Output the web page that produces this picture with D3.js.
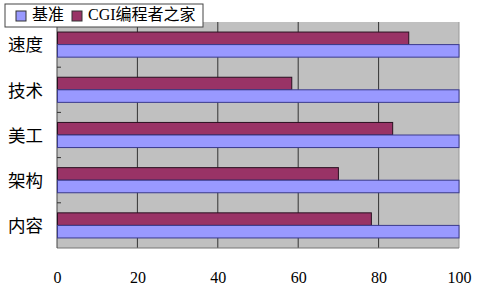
<!DOCTYPE html>
<html lang="zh">
<head>
<meta charset="UTF-8">
<title>速度 技术 美工 架构 内容</title>
<script src="https://d3js.org/d3.v7.min.js"></script>
<style>
    body { margin: 0; background: #fff; }
    svg { display: block; }
</style>
</head>
<body>
<svg id="chart" width="482" height="291"></svg>
<script>
    // data
    const categories = ["速度", "技术", "美工", "架构", "内容"];
    const seriesNames = ["CGI编程者之家", "基准"];
    const cgiValues = [87.5, 58.4, 83.5, 70, 78.2];
    const baseValues = [100, 100, 100, 100, 100];
    const xTicks = [0, 20, 40, 60, 80, 100];
    const colors = { "基准": "#9999ff", "CGI编程者之家": "#993366" };

    const svg = d3.select("#chart");
    const margin = { top: 22, left: 57, right: 23, bottom: 43 };
    const W = 482 - margin.left - margin.right;
    const H = 291 - margin.top - margin.bottom;

    const g = svg.append("g").attr("transform", `translate(${margin.left},${margin.top})`);

    const x = d3.scaleLinear().domain([0, 100]).range([0, W]);
    const y = d3.scaleBand().domain(categories).range([0, H]).padding(0);
    const inner = d3.scaleBand().domain(seriesNames).range([0, y.bandwidth()])
        .paddingInner(0).paddingOuter(0.8);

    // plot background
    g.append("rect").attr("width", W).attr("height", H).attr("fill", "#c0c0c0");

    // grid
    g.selectAll(".grid").data(xTicks.slice(1, -1)).join("line")
        .attr("x1", d => x(d)).attr("x2", d => x(d))
        .attr("y1", 0).attr("y2", H)
        .attr("stroke", "#333").attr("stroke-width", 1);

    // frame
    g.append("line").attr("x1", W).attr("x2", W).attr("y1", 0).attr("y2", H)
        .attr("stroke", "#999");
    g.append("line").attr("x1", 0).attr("x2", W).attr("y1", H).attr("y2", H)
        .attr("stroke", "#777");
    g.append("line").attr("x1", 0).attr("x2", 0).attr("y1", 0).attr("y2", H)
        .attr("stroke", "#444");

    // category boundary ticks
    g.selectAll(".ytick").data(categories.slice(1)).join("line")
        .attr("x1", 0).attr("x2", 4)
        .attr("y1", d => y(d)).attr("y2", d => y(d))
        .attr("stroke", "#333");

    const rows = categories.map((c, i) => ({ cat: c, values: [
        { name: "CGI编程者之家", value: cgiValues[i] },
        { name: "基准", value: baseValues[i] }
    ]}));

    const grp = g.selectAll(".cat").data(rows).join("g")
        .attr("transform", d => `translate(0,${y(d.cat)})`);
    grp.selectAll("rect").data(d => d.values).join("rect")
        .attr("x", 0.5)
        .attr("y", d => inner(d.name))
        .attr("width", d => x(d.value) - 0.5)
        .attr("height", inner.bandwidth())
        .attr("fill", d => colors[d.name])
        .attr("stroke", d => d.name === "基准" ? "#3a3a8c" : "#2a1020")
        .attr("stroke-width", 1);

    // y labels
    g.selectAll(".ylab").data(categories).join("text")
        .attr("x", -49)
        .attr("y", d => y(d) + y.bandwidth() / 2 + 2)
        .attr("dominant-baseline", "middle")
        .attr("font-family", "'Noto Sans CJK SC', sans-serif")
        .attr("font-size", 17.5)
        .attr("fill", "#000")
        .text(d => d);

    // x axis labels
    const xAxis = g.append("g").attr("transform", `translate(0,${H})`)
        .call(d3.axisBottom(x).tickValues(xTicks).tickSize(0).tickPadding(24));
    xAxis.select(".domain").remove();
    xAxis.selectAll("text")
        .attr("font-family", "'Liberation Serif', serif")
        .attr("font-size", 16)
        .attr("fill", "#000");

    // legend
    const leg = svg.append("g").attr("transform", "translate(5,4)");
    leg.append("rect").attr("width", 198).attr("height", 23)
        .attr("fill", "#fff").attr("stroke", "#444");
    const legItems = [
        { name: "基准", sx: 11, tx: 27 },
        { name: "CGI编程者之家", sx: 67, tx: 83 }
    ];
    legItems.forEach(it => {
        leg.append("rect").attr("x", it.sx).attr("y", 7).attr("width", 10).attr("height", 10)
            .attr("fill", colors[it.name]).attr("stroke", "#333");
        leg.append("text").attr("x", it.tx).attr("y", 12)
            .attr("dominant-baseline", "middle")
            .attr("font-family", "'Liberation Serif', 'Noto Sans CJK SC', serif")
            .attr("font-size", 16)
            .text(it.name);
    });
</script>
</body>
</html>
